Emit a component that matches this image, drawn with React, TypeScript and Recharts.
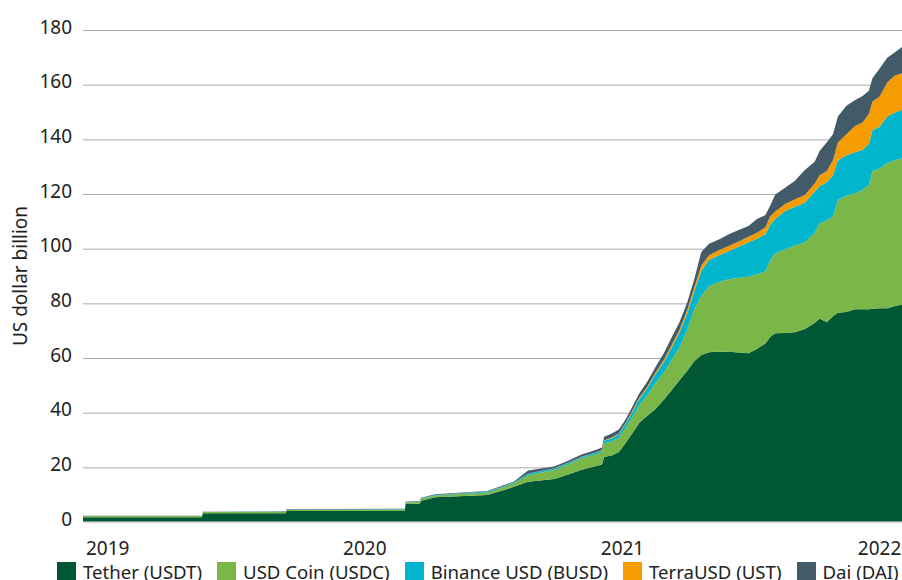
import React from "react";
import { AreaChart, Area, XAxis, YAxis, CartesianGrid } from "recharts";

// stablecoin market cap snapshots, US$ bn
const dates = [
  "2019-01-01", "2019-06-19", "2019-06-20", "2019-10-16", "2019-10-17",
  "2020-04-02", "2020-04-03", "2020-04-23", "2020-04-25", "2020-05-15",
  "2020-07-28", "2020-08-20", "2020-09-04", "2020-09-24", "2020-10-31",
  "2020-11-20", "2020-12-08", "2020-12-31", "2021-01-07", "2021-01-10",
  "2021-01-20", "2021-01-31", "2021-02-10", "2021-02-20", "2021-03-01",
  "2021-03-12", "2021-03-24", "2021-04-05", "2021-04-16", "2021-04-27",
  "2021-05-08", "2021-05-18", "2021-05-28", "2021-06-08", "2021-06-22",
  "2021-07-06", "2021-07-20", "2021-08-03", "2021-08-15", "2021-08-27",
  "2021-09-03", "2021-09-10", "2021-09-24", "2021-10-08", "2021-10-22",
  "2021-11-05", "2021-11-12", "2021-11-22", "2021-12-01", "2021-12-08",
  "2021-12-20", "2022-01-01", "2022-01-12", "2022-01-21", "2022-01-26",
  "2022-02-05", "2022-02-16", "2022-02-27", "2022-03-09",
];

const tether = [
  1.9, 1.9, 3.4, 3.4, 4.2,
  4.2, 6.8, 6.9, 8.0, 9.2,
  10.1, 11.8, 13.1, 14.9, 15.9,
  17.6, 19.2, 20.8, 21.2, 24.1,
  24.4, 25.8, 29.3, 33.0, 36.5,
  39.0, 41.5, 45.0, 48.5, 52.0,
  55.5, 59.0, 61.3, 62.3, 62.6,
  62.5, 62.2, 61.9, 63.5, 65.5,
  68.0, 69.2, 69.3, 69.6, 70.8,
  73.0, 74.6, 73.3, 75.5, 76.7,
  77.0, 78.0, 78.0, 78.0, 78.2,
  78.4, 78.4, 79.2, 79.8,
];

const usdCoin = [
  0.45, 0.45, 0.45, 0.5, 0.45,
  0.5, 0.5, 0.6, 0.7, 0.7,
  0.9, 1.2, 1.3, 2.5, 3.3,
  3.6, 4.2, 4.3, 4.4, 4.9,
  5.2, 5.2, 5.5, 6.0, 6.5,
  7.5, 9.5, 10.0, 11.0, 12.0,
  15.0, 19.0, 21.7, 24.2, 25.4,
  26.5, 27.3, 28.1, 27.3, 26.3,
  28.0, 29.3, 30.7, 31.7, 31.7,
  33.0, 34.9, 37.2, 36.5, 41.3,
  42.5, 42.5, 43.7, 45.5, 50.3,
  51.1, 53.1, 53.3, 53.5,
];

const binanceUsd = [
  0, 0, 0, 0.05, 0.1,
  0.15, 0.15, 0.2, 0.2, 0.2,
  0.3, 0.3, 0.3, 0.5, 0.6,
  0.6, 0.5, 0.6, 0.6, 0.9,
  1.1, 1.3, 1.5, 1.8, 2.2,
  2.5, 3.2, 3.8, 4.5, 5.5,
  6.0, 6.5, 9.0, 9.5, 9.8,
  10.3, 11.4, 12.5, 13.0, 13.7,
  13.0, 12.5, 14.0, 14.2, 14.5,
  15.0, 13.5, 14.0, 15.0, 14.5,
  14.8, 15.0, 14.6, 15.0, 15.0,
  15.3, 17.0, 17.5, 17.7,
];

const terraUsd = [
  0, 0, 0, 0, 0,
  0, 0, 0, 0, 0,
  0, 0, 0, 0, 0.05,
  0.1, 0.1, 0.1, 0.2, 0.2,
  0.3, 0.3, 0.4, 0.5, 0.5,
  0.6, 0.7, 0.8, 1.0, 1.0,
  1.2, 1.5, 2.0, 1.8, 1.8,
  1.9, 1.9, 2.0, 2.2, 2.5,
  3.0, 2.8, 2.5, 2.8, 2.8,
  3.0, 4.0, 4.0, 5.5, 6.5,
  7.7, 9.5, 10.0, 11.0, 10.5,
  11.0, 12.5, 13.5, 13.4,
];

const dai = [
  0.1, 0.1, 0.1, 0.15, 0.2,
  0.15, 0.15, 0.2, 0.2, 0.2,
  0.2, 0.3, 0.3, 1.1, 0.65,
  0.7, 0.8, 0.9, 1.0, 1.3,
  1.5, 1.4, 1.3, 1.5, 1.6,
  1.8, 2.0, 2.4, 2.8, 2.8,
  2.8, 3.0, 5.0, 4.2, 3.9,
  4.3, 4.2, 4.0, 5.0, 4.5,
  4.0, 6.2, 6.0, 6.7, 9.2,
  8.0, 8.9, 10.5, 9.5, 9.5,
  10.5, 9.5, 9.7, 8.5, 8.5,
  10.2, 9.0, 8.5, 9.6,
];

const yearTicks = ["2019-01-01", "2020-01-01", "2021-01-01", "2022-01-01"];
const yTicks = [0, 20, 40, 60, 80, 100, 120, 140, 160, 180];

const SERIES = [
  { key: "tether", label: "Tether (USDT)", color: "#005734" },
  { key: "usdCoin", label: "USD Coin (USDC)", color: "#7ab648" },
  { key: "binanceUsd", label: "Binance USD (BUSD)", color: "#00b5cc" },
  { key: "terraUsd", label: "TerraUSD (UST)", color: "#f59c00" },
  { key: "dai", label: "Dai (DAI)", color: "#435a69" },
];

const data = dates.map((d, i) => ({
  t: Date.parse(d),
  tether: tether[i],
  usdCoin: usdCoin[i],
  binanceUsd: binanceUsd[i],
  terraUsd: terraUsd[i],
  dai: dai[i],
}));

const FONT = "'Noto Sans', 'Open Sans', sans-serif";
const TEXT = "#222";

const XTick = (props: any) => {
  const { x, y, payload } = props;
  return (
    <text x={x + 3} y={y + 24} fill={TEXT} fontSize={19} fontFamily={FONT}>
      {new Date(payload.value).getUTCFullYear()}
    </text>
  );
};

const YTick = (props: any) => {
  const { y, payload } = props;
  return (
    <text x={72} y={y + 3} textAnchor="end" fill={TEXT} fontSize={19} fontFamily={FONT}>
      {payload.value}
    </text>
  );
};

export default function App() {
  return (
    <div
      style={{
        position: "absolute",
        left: 0,
        top: 0,
        width: 902,
        height: 580,
        overflow: "hidden",
        background: "#fff",
        fontFamily: FONT,
      }}
    >
      <AreaChart
        width={902}
        height={580}
        data={data}
        margin={{ top: 30.5, right: 0, bottom: 0, left: 0 }}
      >
        <CartesianGrid
          vertical={false}
          stroke="#ababab"
          horizontalValues={yTicks.slice(1)}
        />
        <XAxis
          dataKey="t"
          type="number"
          domain={[Date.parse(dates[0]), Date.parse(dates[dates.length - 1])]}
          ticks={yearTicks.map((d) => Date.parse(d))}
          tick={<XTick />}
          tickLine={false}
          axisLine={{ stroke: "#e2e2e2", strokeWidth: 2 }}
          height={57.5}
          interval={0}
        />
        <YAxis
          type="number"
          domain={[0, 180]}
          ticks={yTicks}
          tick={<YTick />}
          tickLine={false}
          axisLine={false}
          width={83}
          interval={0}
          label={{
            content: () => (
              <text
                x={27}
                y={276}
                transform="rotate(-90 27 276)"
                textAnchor="middle"
                fill={TEXT}
                fontSize={19}
                fontFamily={FONT}
              >
                US dollar billion
              </text>
            ),
          }}
        />
        {SERIES.map((s) => (
          <Area
            key={s.key}
            dataKey={s.key}
            stackId="1"
            type="linear"
            stroke="none"
            fill={s.color}
            fillOpacity={1}
            isAnimationActive={false}
          />
        ))}
      </AreaChart>
      <div
        style={{
          position: "absolute",
          left: 57,
          top: 562,
          display: "flex",
          alignItems: "center",
          fontSize: 18.6,
          color: TEXT,
          whiteSpace: "nowrap",
          lineHeight: "19px",
        }}
      >
        {SERIES.map((s, i) => (
          <div
            key={s.key}
            style={{ display: "flex", alignItems: "center", marginRight: i < SERIES.length - 1 ? 15 : 0 }}
          >
            <span
              style={{
                display: "inline-block",
                width: 19,
                height: 19,
                background: s.color,
                marginRight: 7,
              }}
            />
            <span>{s.label}</span>
          </div>
        ))}
      </div>
    </div>
  );
}
